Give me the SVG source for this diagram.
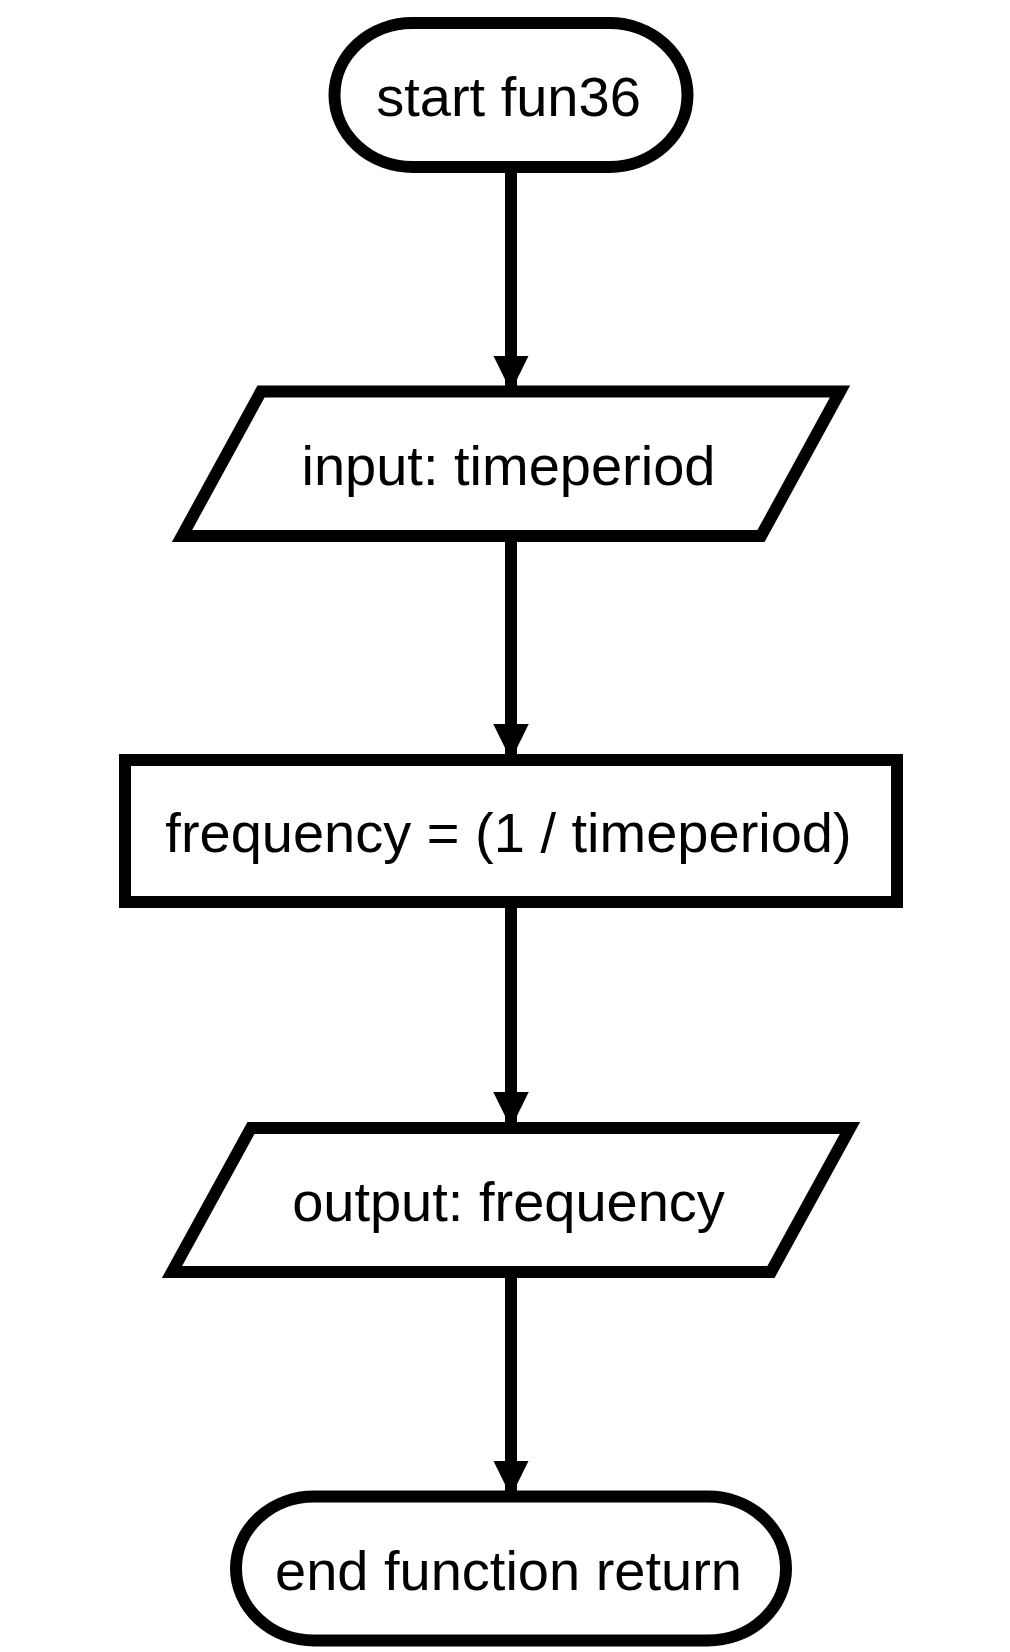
<svg xmlns="http://www.w3.org/2000/svg" width="1010" height="1652" viewBox="0 0 1010 1652">
<style>
.edge{fill:none;stroke:#000;stroke-width:12}
.node{fill:#fff;stroke:#000;stroke-width:12;stroke-linejoin:miter}
.label{font-family:"Liberation Sans",Arial,sans-serif;font-size:56px;fill:#000;text-anchor:middle}
</style>
<defs>
<marker id="arrow" markerUnits="userSpaceOnUse" markerWidth="36" markerHeight="36" refX="36" refY="17.75" orient="auto">
<path d="M0,0 L36,17.75 L0,35.5 Z" fill="#000"/>
</marker>
</defs>
<rect width="1010" height="1652" fill="#fff"/>
<g id="connectors">
<line class="edge" x1="511" y1="167" x2="511" y2="391.5" marker-end="url(#arrow)"/>
<line class="edge" x1="511" y1="536" x2="511" y2="760" marker-end="url(#arrow)"/>
<line class="edge" x1="511" y1="902" x2="511" y2="1128" marker-end="url(#arrow)"/>
<line class="edge" x1="511" y1="1272" x2="511" y2="1496.5" marker-end="url(#arrow)"/>
</g>
<g id="start">
<rect class="node" x="334.5" y="23" width="353" height="144" rx="78" ry="72"/>
<text class="label" x="508.5" y="116">start fun36</text>
</g>
<g id="input">
<polygon class="node" points="261,391.5 840,391.5 761,536 182,536"/>
<text class="label" x="508.5" y="485">input: timeperiod</text>
</g>
<g id="process">
<rect class="node" x="125" y="760" width="772" height="142"/>
<text class="label" x="508.5" y="852">frequency = (1 / timeperiod)</text>
</g>
<g id="output">
<polygon class="node" points="251,1128 850,1128 771,1272 172,1272"/>
<text class="label" x="508.5" y="1221">output: frequency</text>
</g>
<g id="end">
<rect class="node" x="236" y="1496.5" width="550" height="144" rx="78" ry="72"/>
<text class="label" x="508.5" y="1590">end function return</text>
</g>
</svg>
